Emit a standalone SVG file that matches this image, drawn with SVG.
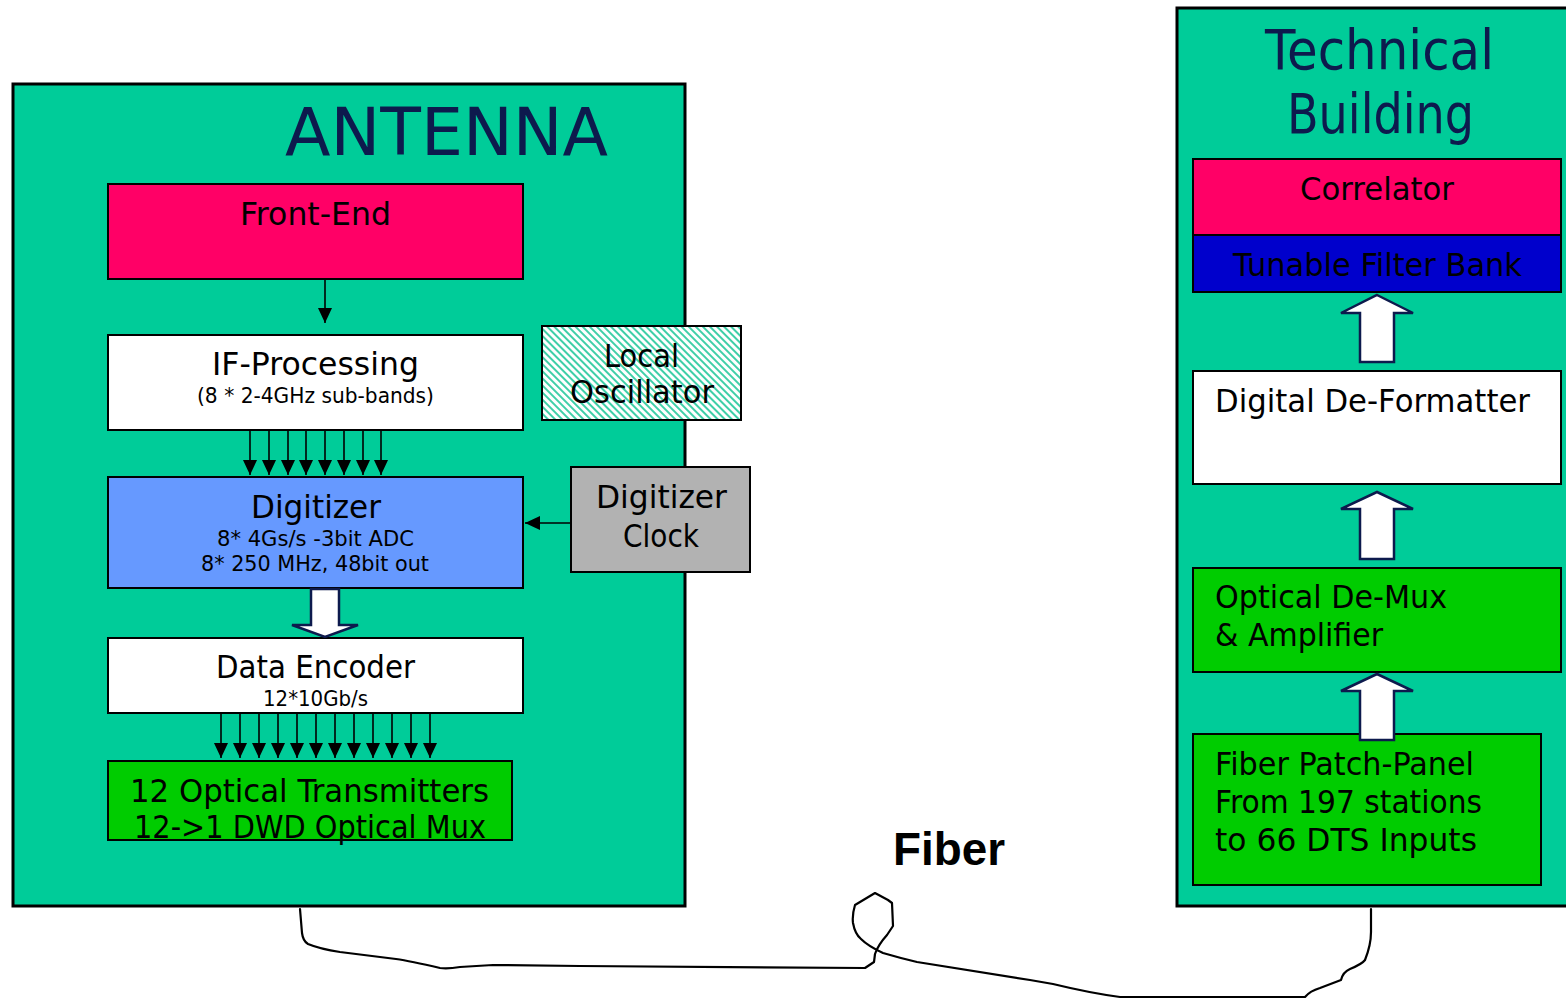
<svg xmlns="http://www.w3.org/2000/svg" width="1566" height="999" viewBox="0 0 1566 999">
<defs>
<style>
.t{font-family:"DejaVu Sans","Liberation Sans",sans-serif;fill:#000}
.big{font-size:32px}
.sm{font-size:21px}
.ttl{fill:#0d1a4d}
.box{stroke:#000;stroke-width:2}
.cont{fill:#00CC99;stroke:#000;stroke-width:3}
.blk{fill:#fff;stroke:#0d1a4d;stroke-width:2.5;stroke-linejoin:miter}
.ln{stroke:#000;stroke-width:1.6;fill:none}
.fib{stroke:#000;stroke-width:2.2;fill:none;stroke-linejoin:round;stroke-linecap:round}
</style>
<pattern id="hatch" patternUnits="userSpaceOnUse" width="5" height="5" patternTransform="rotate(-45)">
<rect width="5" height="5" fill="#fff"/>
<line x1="1" y1="0" x2="1" y2="5" stroke="#3fcfa8" stroke-width="2"/>
</pattern>
<marker id="ah" viewBox="0 0 15 14" refX="15" refY="7" markerWidth="15" markerHeight="14" markerUnits="userSpaceOnUse" orient="auto">
<path d="M0,0 L15,7 L0,14 Z" fill="#000"/>
</marker>
</defs>
<rect width="1566" height="999" fill="#fff"/>

<g id="antenna">
<rect class="cont" x="13" y="84" width="672" height="822"/>
<text class="t ttl" x="285" y="155" font-size="66" textLength="323" lengthAdjust="spacingAndGlyphs">ANTENNA</text>
</g>

<g id="technical-building">
<rect class="cont" x="1177" y="8" width="395" height="898"/>
<text class="t ttl" x="1265" y="69" font-size="56" textLength="229" lengthAdjust="spacingAndGlyphs">Technical</text>
<text class="t ttl" x="1287" y="133" font-size="56" textLength="187" lengthAdjust="spacingAndGlyphs">Building</text>
</g>

<g id="front-end">
<rect class="box" x="108" y="184" width="415" height="95" fill="#FF0066"/>
<text class="t big" x="240" y="225" textLength="151" lengthAdjust="spacingAndGlyphs">Front-End</text>
</g>

<g id="if-processing">
<rect class="box" x="108" y="335" width="415" height="95" fill="#fff"/>
<text class="t big" x="212" y="375" textLength="207" lengthAdjust="spacingAndGlyphs">IF-Processing</text>
<text class="t sm" x="197" y="403" textLength="237" lengthAdjust="spacingAndGlyphs">(8 * 2-4GHz sub-bands)</text>
</g>

<g id="local-oscillator">
<rect class="box" x="542" y="326" width="199" height="94" fill="url(#hatch)"/>
<text class="t big" x="604" y="367" textLength="75" lengthAdjust="spacingAndGlyphs">Local</text>
<text class="t big" x="570" y="403" textLength="144" lengthAdjust="spacingAndGlyphs">Oscillator</text>
</g>

<g id="digitizer">
<rect class="box" x="108" y="477" width="415" height="111" fill="#6699FF"/>
<text class="t big" x="251" y="518" textLength="130" lengthAdjust="spacingAndGlyphs">Digitizer</text>
<text class="t sm" x="217" y="546" textLength="197" lengthAdjust="spacingAndGlyphs">8* 4Gs/s -3bit ADC</text>
<text class="t sm" x="201" y="571" textLength="228" lengthAdjust="spacingAndGlyphs">8* 250 MHz, 48bit out</text>
</g>

<g id="digitizer-clock">
<rect class="box" x="571" y="467" width="179" height="105" fill="#B2B2B2"/>
<text class="t big" x="596" y="508" textLength="131" lengthAdjust="spacingAndGlyphs">Digitizer</text>
<text class="t big" x="623" y="547" textLength="76" lengthAdjust="spacingAndGlyphs">Clock</text>
</g>

<g id="data-encoder">
<rect class="box" x="108" y="638" width="415" height="75" fill="#fff"/>
<text class="t big" x="216" y="678" textLength="199" lengthAdjust="spacingAndGlyphs">Data Encoder</text>
<text class="t sm" x="263" y="706" textLength="105" lengthAdjust="spacingAndGlyphs">12*10Gb/s</text>
</g>

<g id="optical-transmitters">
<rect class="box" x="108" y="761" width="404" height="79" fill="#00CC00"/>
<text class="t big" x="130" y="802" textLength="359" lengthAdjust="spacingAndGlyphs">12 Optical Transmitters</text>
<text class="t big" x="134" y="838" textLength="352" lengthAdjust="spacingAndGlyphs">12-&gt;1 DWD Optical Mux</text>
</g>

<g id="correlator">
<rect class="box" x="1193" y="159" width="368" height="76" fill="#FF0066"/>
<text class="t big" x="1300" y="200" textLength="154" lengthAdjust="spacingAndGlyphs">Correlator</text>
</g>

<g id="tunable-filter-bank">
<rect class="box" x="1193" y="235" width="368" height="57" fill="#0000CC"/>
<text class="t big" x="1233" y="276" textLength="289" lengthAdjust="spacingAndGlyphs">Tunable Filter Bank</text>
</g>

<g id="digital-de-formatter">
<rect class="box" x="1193" y="371" width="368" height="113" fill="#fff"/>
<text class="t big" x="1215" y="412" textLength="315" lengthAdjust="spacingAndGlyphs">Digital De-Formatter</text>
</g>

<g id="optical-de-mux">
<rect class="box" x="1193" y="568" width="368" height="104" fill="#00CC00"/>
<text class="t big" x="1215" y="608" textLength="232" lengthAdjust="spacingAndGlyphs">Optical De-Mux</text>
<text class="t big" x="1215" y="646" textLength="168" lengthAdjust="spacingAndGlyphs">&amp; Amplifier</text>
</g>

<g id="fiber-patch-panel">
<rect class="box" x="1193" y="734" width="348" height="151" fill="#00CC00"/>
<text class="t big" x="1215" y="775" textLength="259" lengthAdjust="spacingAndGlyphs">Fiber Patch-Panel</text>
<text class="t big" x="1215" y="813" textLength="267" lengthAdjust="spacingAndGlyphs">From 197 stations</text>
<text class="t big" x="1215" y="851" textLength="262" lengthAdjust="spacingAndGlyphs">to 66 DTS Inputs</text>
</g>

<g id="fiber-label">
<text x="893" y="865" font-family="'Liberation Sans',Arial,sans-serif" font-weight="bold" font-size="46" fill="#000" textLength="112" lengthAdjust="spacingAndGlyphs">Fiber</text>
</g>

<g id="connectors">
<line class="ln" x1="325" y1="279" x2="325" y2="323" marker-end="url(#ah)"/>
<g class="ln" marker-end="url(#ah)">
<line x1="250" y1="430" x2="250" y2="475"/>
<line x1="269" y1="430" x2="269" y2="475"/>
<line x1="288" y1="430" x2="288" y2="475"/>
<line x1="306" y1="430" x2="306" y2="475"/>
<line x1="325" y1="430" x2="325" y2="475"/>
<line x1="344" y1="430" x2="344" y2="475"/>
<line x1="363" y1="430" x2="363" y2="475"/>
<line x1="381" y1="430" x2="381" y2="475"/>
</g>
<line class="ln" x1="571" y1="523" x2="525" y2="523" marker-end="url(#ah)"/>
<path class="blk" d="M311,589 L339,589 L339,625 L358,625 L325,637 L292,625 L311,625 Z"/>
<g class="ln" marker-end="url(#ah)">
<line x1="221" y1="713" x2="221" y2="758"/>
<line x1="240" y1="713" x2="240" y2="758"/>
<line x1="259" y1="713" x2="259" y2="758"/>
<line x1="278" y1="713" x2="278" y2="758"/>
<line x1="297" y1="713" x2="297" y2="758"/>
<line x1="316" y1="713" x2="316" y2="758"/>
<line x1="335" y1="713" x2="335" y2="758"/>
<line x1="354" y1="713" x2="354" y2="758"/>
<line x1="373" y1="713" x2="373" y2="758"/>
<line x1="392" y1="713" x2="392" y2="758"/>
<line x1="411" y1="713" x2="411" y2="758"/>
<line x1="430" y1="713" x2="430" y2="758"/>
</g>
<path class="blk" d="M1377,295 L1413,313 L1394,313 L1394,362 L1360,362 L1360,313 L1341,313 Z"/>
<path class="blk" d="M1377,492 L1413,509 L1394,509 L1394,559 L1360,559 L1360,509 L1341,509 Z"/>
<path class="blk" d="M1377,674 L1413,691 L1394,691 L1394,740 L1360,740 L1360,691 L1341,691 Z"/>
<path class="fib" d="M300,909 L302,933 Q303,941 308,944 Q320,949 340,952 L396,959 Q410,961 440,968 Q448,969 460,967 L493,965 L580,966 L865,968 L874,962 L875,954 Q878,945 887,935 L893,926 L892,903 L888,900 L875,893 L855,905 Q852,915 853,923 Q855,934 861,939 Q868,946 883,953 Q900,958 917,962 L1030,980 L1053,984 Q1090,993 1120,997 L1305,997 Q1310,991 1320,988 L1341,980 Q1343,972 1350,969 Q1362,964 1365,960 Q1371,945 1371,932 L1371,909"/>
</g>
</svg>
